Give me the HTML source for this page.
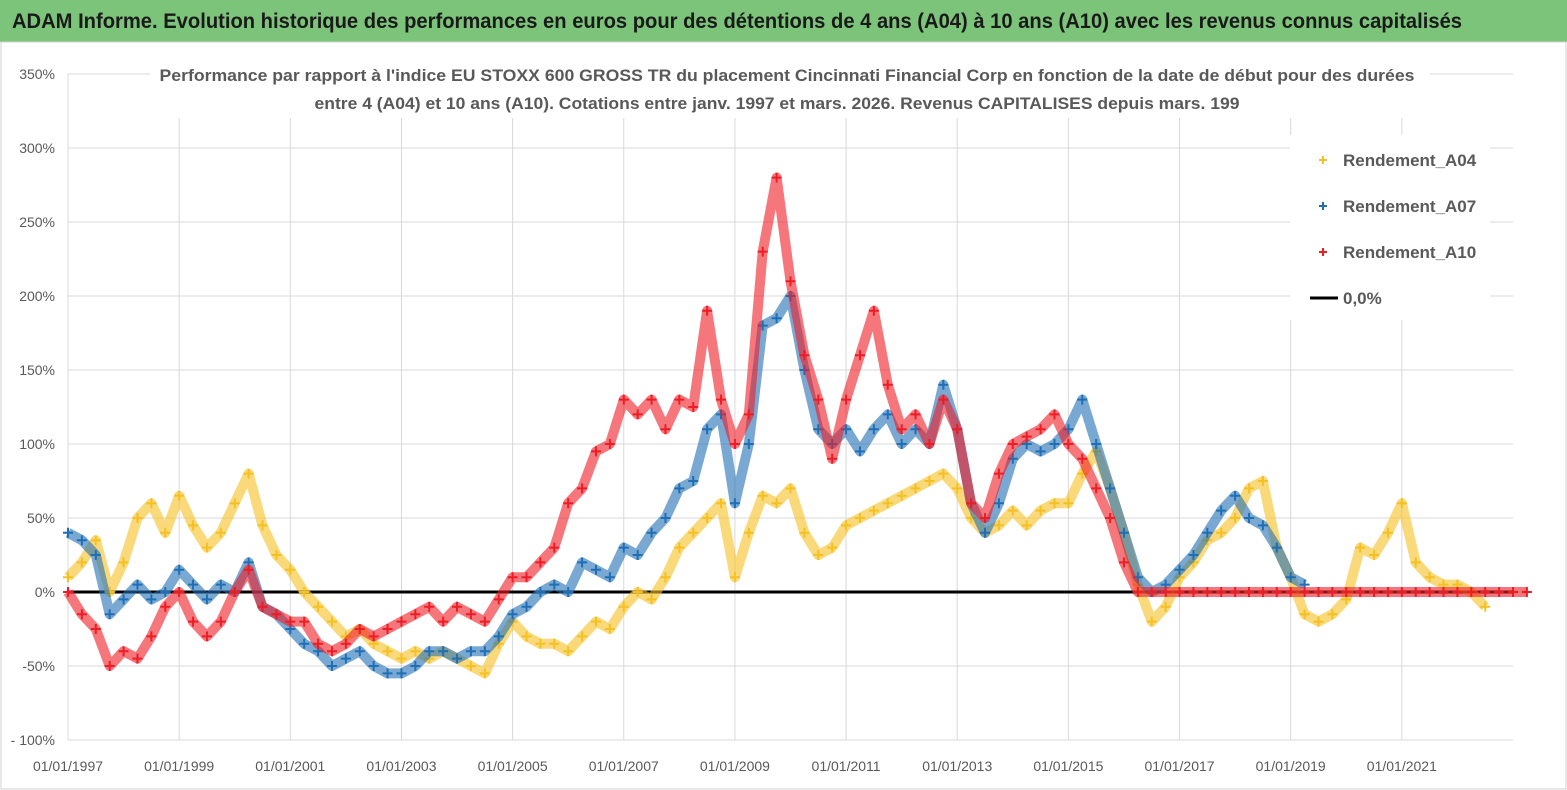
<!DOCTYPE html>
<html><head><meta charset="utf-8"><style>
html,body{margin:0;padding:0;background:#fff;}
svg{display:block;font-family:"Liberation Sans",sans-serif;}
</style></head><body>
<svg id="chart" width="1567" height="790" viewBox="0 0 1567 790">
<rect x="0" y="0" width="1567" height="790" fill="#fff"/>
<rect x="0" y="0" width="1567" height="42" fill="#7cc47a"/>
<text x="12" y="28" font-size="21" font-weight="bold" fill="#1a1a1a" textLength="1450" lengthAdjust="spacingAndGlyphs">ADAM Informe. Evolution historique des performances en euros pour des détentions de 4 ans (A04) à 10 ans (A10) avec les revenus connus capitalisés</text>
<rect x="1" y="42" width="1565" height="747" fill="none" stroke="#d0d0d0"/>
<g id="grid"></g>
<g id="zero"></g>
<g id="series"></g>
<rect x="150" y="60" width="1280" height="58" fill="#fff"/>
<text x="787" y="81" text-anchor="middle" font-size="17" font-weight="bold" fill="#595959" textLength="1255" lengthAdjust="spacingAndGlyphs">Performance par rapport à l'indice EU STOXX 600 GROSS TR  du placement Cincinnati Financial Corp en fonction de la date de début pour des durées</text>
<text x="777" y="109" text-anchor="middle" font-size="17" font-weight="bold" fill="#595959" textLength="925" lengthAdjust="spacingAndGlyphs">entre 4 (A04) et 10 ans (A10). Cotations entre janv. 1997 et mars. 2026. Revenus CAPITALISES depuis mars. 199</text>
<g id="legend"></g>
</svg>
<script>
const yTicks=[350,300,250,200,150,100,50,0,-50,-100];
const yTickLabels=["350%","300%","250%","200%","150%","100%","50%","0%","-50%","- 100%"];
const xTickYears=[1997,1999,2001,2003,2005,2007,2009,2011,2013,2015,2017,2019,2021];
const xTickLabels=["01/01/1997","01/01/1999","01/01/2001","01/01/2003","01/01/2005","01/01/2007","01/01/2009","01/01/2011","01/01/2013","01/01/2015","01/01/2017","01/01/2019","01/01/2021"];
const startYear=1997, stepYear=0.25;
const a04=[10,20,35,0,20,50,60,40,65,45,30,40,60,80,45,25,15,0,-10,-20,-30,-25,-35,-40,-45,-40,-45,-40,-45,-50,-55,-35,-20,-30,-35,-35,-40,-30,-20,-25,-10,0,-5,10,30,40,50,60,10,40,65,60,70,40,25,30,45,50,55,60,65,70,75,80,70,50,40,45,55,45,55,60,60,80,95,70,40,5,-20,-10,10,20,35,40,50,70,75,30,10,-15,-20,-15,-5,30,25,40,60,20,10,5,5,0,-10];
const a07=[40,35,25,-15,-5,5,-5,0,15,5,-5,5,0,20,-10,-15,-25,-35,-40,-50,-45,-40,-50,-55,-55,-50,-40,-40,-45,-40,-40,-30,-15,-10,0,5,0,20,15,10,30,25,40,50,70,75,110,120,60,100,180,185,200,150,110,100,110,95,110,120,100,110,100,140,110,60,40,60,90,100,95,100,110,130,100,70,40,10,0,5,15,25,40,55,65,50,45,30,10,5];
const a10=[0,-15,-25,-50,-40,-45,-30,-10,0,-20,-30,-20,0,15,-10,-15,-20,-20,-35,-40,-35,-25,-30,-25,-20,-15,-10,-20,-10,-15,-20,-5,10,10,20,30,60,70,95,100,130,120,130,110,130,125,190,130,100,120,230,280,210,160,130,90,130,160,190,140,110,120,100,130,110,60,50,80,100,105,110,120,100,90,70,50,20,0,0,0,0,0,0,0,0,0,0,0,0,0,0,0,0,0,0,0,0,0,0,0,0,0,0,0,0,0];

const NS="http://www.w3.org/2000/svg";
const X0=68, X1=1513, Y0=592, PX_PER_PCT=74/50, PX_PER_YEAR=(X1-X0)/26;
function xs(yr){return X0+(yr-1997)*PX_PER_YEAR;}
function ys(v){return Y0-v*PX_PER_PCT;}
function mk(tag,attrs,parent){const e=document.createElementNS(NS,tag);for(const k in attrs)e.setAttribute(k,attrs[k]);parent.appendChild(e);return e;}
const grid=document.getElementById('grid');
yTicks.forEach((t,i)=>{
  const l=mk('line',{x1:X0,x2:X1,y1:ys(t),y2:ys(t),stroke:'#d9d9d9','stroke-width':1},grid);
  
  
  const tx=mk('text',{x:55,y:ys(t)+5,'text-anchor':'end','font-size':14,fill:'#595959'},grid);
  tx.textContent=yTickLabels[i];
  
  
});
xTickYears.forEach((yr,i)=>{
  const l=mk('line',{x1:xs(yr),x2:xs(yr),y1:ys(350),y2:ys(-100),stroke:'#d9d9d9','stroke-width':1},grid);
  
  
  const tx=mk('text',{x:xs(yr),y:771,'text-anchor':'middle','font-size':14,fill:'#595959'},grid);
  tx.textContent=xTickLabels[i];
  
  
});
const zg=document.getElementById('zero');
const zl=mk('line',{x1:X0,x2:X1,y1:ys(0),y2:ys(0),stroke:'#000','stroke-width':3},zg);


const ser=document.getElementById('series');
function drawSeries(arr,color,name){
  const g=mk('g',{},ser);
  
  
  const pts=arr.map((v,i)=>xs(startYear+i*stepYear).toFixed(1)+','+ys(v).toFixed(1)).join(' ');
  const pl=mk('polyline',{points:pts,fill:'none',stroke:color,'stroke-width':10,'stroke-opacity':0.6,'stroke-linejoin':'round'},g);
  
  
  arr.forEach((v,i)=>{
    const x=xs(startYear+i*stepYear), y=ys(v);
    const p=mk('path',{d:`M${x-5},${y}h10M${x},${y-5}v10`,stroke:color,'stroke-width':2},g);
    
    
  });
}
drawSeries(a04,'#f5c021','series-a04');
drawSeries(a07,'#1f6fb5','series-a07');
drawSeries(a10,'#ee1c24','series-a10');
const lg=document.getElementById('legend');
const lb=mk('rect',{x:1290,y:135,width:200,height:185,fill:'#fff'},lg);


const legendNames=["Rendement_A04","Rendement_A07","Rendement_A10","0,0%"];
const legendColors=['#f5c021','#1f6fb5','#ee1c24','#000'];
legendNames.forEach((n,i)=>{
  const y=160+i*46;
  let m;
  if(i<3){m=mk('path',{d:`M1319,${y}h8M1323,${y-4}v8`,stroke:legendColors[i],'stroke-width':2},lg);}
  else{m=mk('line',{x1:1310,x2:1338,y1:y,y2:y,stroke:'#000','stroke-width':3},lg);}
  
  
  const t=mk('text',{x:1343,y:y+6,'font-size':17,'font-weight':'bold',fill:'#595959'},lg);
  t.textContent=n;
  
  
});
</script>
</body></html>
